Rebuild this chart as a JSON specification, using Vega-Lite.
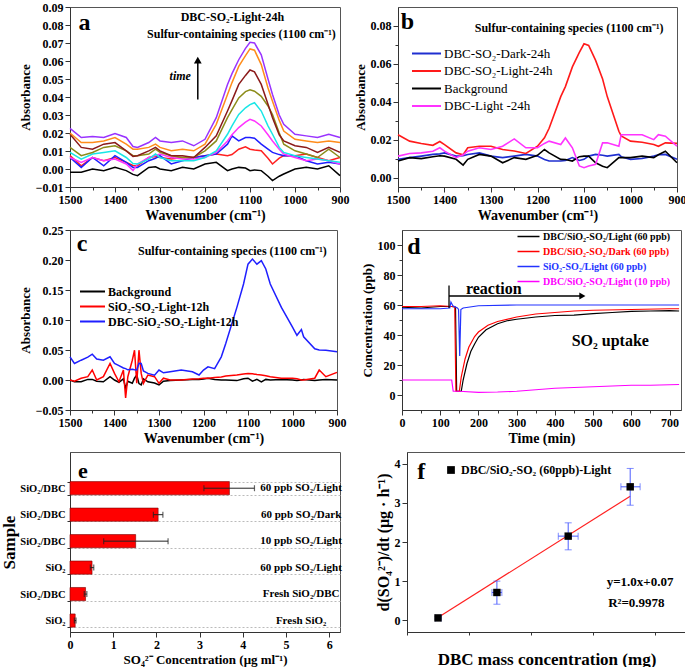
{
 "$schema": "https://vega.github.io/schema/vega-lite/v6.json",
 "background": "white",
 "padding": {"left": 0, "top": 0, "right": 3, "bottom": 2},
 "config": {
  "font": "Liberation Serif",
  "view": {"stroke": "#555", "strokeWidth": 1},
  "axis": {"labelFont": "Liberation Serif", "labelFontWeight": "bold", "labelFontSize": 12, "labelColor": "#000", "titleFont": "Liberation Serif", "titleFontWeight": "bold", "titleFontSize": 14, "titleColor": "#000", "grid": false, "tickColor": "#333", "domainColor": "#333", "labelFlush": false, "labelOverlap": false, "labelPadding": 2, "titlePadding": 3, "tickCount": 100},
  "legend": {"labelFont": "Liberation Serif", "titleFont": "Liberation Serif", "labelLimit": 400}
 },
 "spacing": 0,
 "resolve": {"scale": {"color": "independent", "x": "independent", "y": "independent"}},
 "vconcat": [
  {
   "hconcat": [
    {
     "width": 270, "height": 180,
     "layer": [
      {
       "data": {"values": [
        {"x":1500,"k":-0.0018,"r":0.0074,"b":0.0064,"m":0.0064,"c":0.0092,"g":0.012,"n":0.0193,"o":0.02,"p":0.0226},
        {"x":1475,"k":-0.0018,"r":0.0018,"b":0.0009,"m":0.0037,"c":0.0055,"g":0.0074,"n":0.012,"o":0.0147,"p":0.0175},
        {"x":1450,"k":0,"r":0.0064,"b":0.0064,"m":0.0064,"c":0.0083,"g":0.0092,"n":0.011,"o":0.0147,"p":0.018},
        {"x":1425,"k":-0.0009,"r":0.0046,"b":0.0018,"m":0.0046,"c":0.0092,"g":0.012,"n":0.0138,"o":0.0156,"p":0.0175},
        {"x":1400,"k":0.0009,"r":0.0064,"b":0.0074,"m":0.0055,"c":0.0101,"g":0.0129,"n":0.0147,"o":0.0175,"p":0.0197},
        {"x":1375,"k":-0.0009,"r":0.0037,"b":0.0037,"m":0.0028,"c":0.0064,"g":0.0101,"n":0.0101,"o":0.0138,"p":0.0175},
        {"x":1360,"k":-0.003,"r":0.002,"b":0.0009,"m":-0.0009,"c":0.003,"g":0.0074,"n":0.007,"o":0.011,"p":0.0125},
        {"x":1350,"k":-0.0037,"r":0.0018,"b":0.0009,"m":0.0028,"c":0.0028,"g":0.0074,"n":0.0074,"o":0.011,"p":0.012},
        {"x":1325,"k":0.0009,"r":0.0064,"b":0.0046,"m":0.0064,"c":0.0055,"g":0.0083,"n":0.0101,"o":0.012,"p":0.0147},
        {"x":1310,"k":0.0012,"r":0.007,"b":0.006,"m":0.0075,"c":0.0083,"g":0.011,"n":0.012,"o":0.0138,"p":0.0175},
        {"x":1300,"k":0,"r":0.0064,"b":0.0074,"m":0.0083,"c":0.0064,"g":0.0092,"n":0.0101,"o":0.012,"p":0.0156},
        {"x":1275,"k":-0.0009,"r":0.0055,"b":0.0028,"m":0.0064,"c":0.0046,"g":0.0074,"n":0.0074,"o":0.0101,"p":0.0147},
        {"x":1250,"k":0.0009,"r":0.0064,"b":0.0046,"m":0.0055,"c":0.0046,"g":0.0064,"n":0.0074,"o":0.011,"p":0.0156},
        {"x":1225,"k":0,"r":0.0064,"b":0.0064,"m":0.0055,"c":0.0046,"g":0.0064,"n":0.0064,"o":0.0101,"p":0.0129},
        {"x":1200,"k":0.0028,"r":0.0074,"b":0.0074,"m":0.0064,"c":0.0064,"g":0.0101,"n":0.012,"o":0.0138,"p":0.0165},
        {"x":1175,"k":0.0037,"r":0.0083,"b":0.0083,"m":0.0092,"c":0.0101,"g":0.0156,"n":0.0184,"o":0.0248,"p":0.0285},
        {"x":1150,"k":-0.0009,"r":0.0074,"b":0.0138,"m":0.0156,"c":0.0193,"g":0.0285,"n":0.0322,"o":0.0414,"p":0.047},
        {"x":1140,"k":0,"r":0.008,"b":0.0184,"m":0.019,"c":0.024,"g":0.033,"n":0.038,"o":0.048,"p":0.053},
        {"x":1125,"k":0.0009,"r":0.011,"b":0.0156,"m":0.023,"c":0.0303,"g":0.0395,"n":0.047,"o":0.057,"p":0.0607},
        {"x":1110,"k":0.0005,"r":0.0123,"b":0.0175,"m":0.026,"c":0.034,"g":0.043,"n":0.052,"o":0.063,"p":0.067},
        {"x":1100,"k":-0.0009,"r":0.011,"b":0.0175,"m":0.0276,"c":0.0358,"g":0.044,"n":0.055,"o":0.0667,"p":0.0704},
        {"x":1090,"k":-0.0005,"r":0.0105,"b":0.0171,"m":0.0267,"c":0.0368,"g":0.0432,"n":0.054,"o":0.066,"p":0.07},
        {"x":1075,"k":-0.0009,"r":0.0101,"b":0.0138,"m":0.0239,"c":0.0322,"g":0.0404,"n":0.047,"o":0.058,"p":0.0634},
        {"x":1060,"k":-0.004,"r":0.006,"b":0.011,"m":0.019,"c":0.024,"g":0.035,"n":0.036,"o":0.045,"p":0.05},
        {"x":1050,"k":-0.0064,"r":0.0028,"b":0.0092,"m":0.0156,"c":0.0193,"g":0.0303,"n":0.0285,"o":0.0377,"p":0.0414},
        {"x":1035,"k":-0.004,"r":0.006,"b":0.008,"m":0.011,"c":0.012,"g":0.02,"n":0.019,"o":0.027,"p":0.03},
        {"x":1025,"k":-0.0028,"r":0.0074,"b":0.0074,"m":0.0083,"c":0.0092,"g":0.0138,"n":0.0156,"o":0.0211,"p":0.0248},
        {"x":1000,"k":0,"r":0.0074,"b":0.0074,"m":0.0064,"c":0.0074,"g":0.0101,"n":0.0129,"o":0.0165,"p":0.0193},
        {"x":975,"k":0.0009,"r":0.0083,"b":0.0046,"m":0.0046,"c":0.0064,"g":0.0083,"n":0.012,"o":0.0156,"p":0.0184},
        {"x":950,"k":0,"r":0.0064,"b":0.0028,"m":0.0055,"c":0.0055,"g":0.0064,"n":0.0092,"o":0.0147,"p":0.0175},
        {"x":925,"k":0.0018,"r":0.0046,"b":0.0037,"m":0.0046,"c":0.0046,"g":0.011,"n":0.012,"o":0.0156,"p":0.0193},
        {"x":900,"k":-0.0037,"r":0.0064,"b":0.0028,"m":0.0028,"c":0.0037,"g":0.0064,"n":0.0092,"o":0.0147,"p":0.0175}
       ]},
       "transform": [{"fold": ["k","r","b","m","c","g","n","o","p"], "as": ["s","v"]}],
       "mark": {"type": "line", "strokeWidth": 1.5},
       "encoding": {
        "x": {"field": "x", "type": "quantitative", "scale": {"domain": [900,1500], "reverse": true, "nice": false},
         "axis": {"title": "Wavenumber (cm⁻¹)", "format": "d", "tickCount": 100, "values": [900,950,1000,1050,1100,1150,1200,1250,1300,1350,1400,1450,1500], "labelExpr": "datum.value % 100 == 0 ? datum.label : ''", "tickSize": {"condition": {"test": "datum.value % 100 == 0", "value": 5}, "value": 3}}},
        "y": {"field": "v", "type": "quantitative", "scale": {"domain": [-0.01,0.09], "nice": false},
         "axis": {"title": "Absorbance", "format": ".2f", "tickCount": 100, "values": [-0.01,0,0.01,0.02,0.03,0.04,0.05,0.06,0.07,0.08,0.09], "titleFontSize": 13}},
        "color": {"field": "s", "type": "nominal", "scale": {"domain": ["k","r","b","m","c","g","n","o","p"], "range": ["#000000","#ff2020","#1f1fff","#ff33ff","#19e6e6","#8c8c1a","#8b1a1a","#ff8c1a","#9933ff"]}, "legend": null}
       }
      },
      {"data": {"values": [{}]}, "mark": {"type": "text", "fontSize": 24, "fontWeight": "bold", "font": "Liberation Serif"},
       "encoding": {"x": {"datum": 1468, "type": "quantitative"}, "y": {"datum": 0.081, "type": "quantitative"}, "text": {"value": "a"}}},
      {"data": {"values": [{}]}, "mark": {"type": "text", "fontSize": 12, "fontWeight": "bold", "font": "Liberation Serif"},
       "encoding": {"x": {"datum": 1139, "type": "quantitative"}, "y": {"datum": 0.0846, "type": "quantitative"}, "text": {"value": "DBC-SO₂-Light-24h"}}},
      {"data": {"values": [{}]}, "mark": {"type": "text", "fontSize": 12, "fontWeight": "bold", "font": "Liberation Serif"},
       "encoding": {"x": {"datum": 1119, "type": "quantitative"}, "y": {"datum": 0.075, "type": "quantitative"}, "text": {"value": "Sulfur-containing species (1100 cm⁻¹)"}}},
      {"data": {"values": [{}]}, "mark": {"type": "text", "fontSize": 12, "fontWeight": "bold", "fontStyle": "italic", "font": "Liberation Serif"},
       "encoding": {"x": {"datum": 1255, "type": "quantitative"}, "y": {"datum": 0.0515, "type": "quantitative"}, "text": {"value": "time"}}},
      {"data": {"values": [{}]}, "mark": {"type": "rule", "strokeWidth": 1.5, "color": "#000"},
       "encoding": {"x": {"datum": 1216, "type": "quantitative"}, "y": {"datum": 0.0386, "type": "quantitative"}, "y2": {"datum": 0.06}}},
      {"data": {"values": [{}]}, "mark": {"type": "point", "shape": "triangle-up", "filled": true, "size": 60, "color": "#000", "opacity": 1},
       "encoding": {"x": {"datum": 1216, "type": "quantitative"}, "y": {"datum": 0.0605, "type": "quantitative"}}}
     ]
    },
    {
     "width": 279, "height": 180,
     "layer": [
      {
       "data": {"values": [
        {"x":1500,"r":0.0226,"b":0.0096,"k":0.0087,"m":0.0113},
        {"x":1475,"r":0.0192,"b":0.0105,"k":0.0105,"m":0.0127},
        {"x":1450,"r":0.018,"b":0.0113,"k":0.01,"m":0.013},
        {"x":1425,"r":0.017,"b":0.0122,"k":0.011,"m":0.0139},
        {"x":1410,"r":0.019,"b":0.0125,"k":0.0115,"m":0.0157},
        {"x":1400,"r":0.0174,"b":0.013,"k":0.0113,"m":0.0139},
        {"x":1375,"r":0.013,"b":0.0113,"k":0.0096,"m":0.0105},
        {"x":1360,"r":0.012,"b":0.0115,"k":0.0066,"m":0.012},
        {"x":1350,"r":0.0157,"b":0.0122,"k":0.0096,"m":0.0139},
        {"x":1325,"r":0.0165,"b":0.013,"k":0.0122,"m":0.0157},
        {"x":1300,"r":0.0165,"b":0.0113,"k":0.0113,"m":0.0148},
        {"x":1275,"r":0.0148,"b":0.0105,"k":0.0078,"m":0.0165},
        {"x":1250,"r":0.014,"b":0.0113,"k":0.0105,"m":0.0204},
        {"x":1225,"r":0.0127,"b":0.0122,"k":0.0096,"m":0.0157},
        {"x":1200,"r":0.0165,"b":0.0113,"k":0.0117,"m":0.0157},
        {"x":1185,"r":0.021,"b":0.0095,"k":0.0148,"m":0.018},
        {"x":1175,"r":0.026,"b":0.0087,"k":0.013,"m":0.0192},
        {"x":1150,"r":0.0427,"b":0.0087,"k":0.0096,"m":0.0174},
        {"x":1140,"r":0.048,"b":0.009,"k":0.0095,"m":0.0209},
        {"x":1125,"r":0.0584,"b":0.0105,"k":0.0087,"m":0.0157},
        {"x":1110,"r":0.066,"b":0.009,"k":0.011,"m":0.0061},
        {"x":1100,"r":0.0706,"b":0.0096,"k":0.0113,"m":0.0052},
        {"x":1090,"r":0.0697,"b":0.0113,"k":0.0113,"m":0.0061},
        {"x":1075,"r":0.0618,"b":0.0122,"k":0.0078,"m":0.007},
        {"x":1060,"r":0.052,"b":0.0118,"k":0.006,"m":0.0183},
        {"x":1050,"r":0.0427,"b":0.0113,"k":0.0052,"m":0.0183},
        {"x":1025,"r":0.0244,"b":0.0122,"k":0.0105,"m":0.0165},
        {"x":1020,"r":0.022,"b":0.011,"k":0.0105,"m":0.0226},
        {"x":1000,"r":0.0192,"b":0.0096,"k":0.0105,"m":0.0226},
        {"x":975,"r":0.0186,"b":0.01,"k":0.0113,"m":0.0226},
        {"x":950,"r":0.0174,"b":0.0113,"k":0.0105,"m":0.02},
        {"x":940,"r":0.0165,"b":0.012,"k":0.012,"m":0.0226},
        {"x":925,"r":0.0183,"b":0.0122,"k":0.0139,"m":0.0218},
        {"x":900,"r":0.018,"b":0.0096,"k":0.0078,"m":0.0165}
       ]},
       "transform": [{"fold": ["b","r","k","m"], "as": ["s","v"]}],
       "mark": {"type": "line", "strokeWidth": 1.6},
       "encoding": {
        "x": {"field": "x", "type": "quantitative", "scale": {"domain": [900,1500], "reverse": true, "nice": false},
         "axis": {"title": "Wavenumber (cm⁻¹)", "format": "d", "tickCount": 100, "values": [900,950,1000,1050,1100,1150,1200,1250,1300,1350,1400,1450,1500], "labelExpr": "datum.value % 100 == 0 ? datum.label : ''", "tickSize": {"condition": {"test": "datum.value % 100 == 0", "value": 5}, "value": 3}}},
        "y": {"field": "v", "type": "quantitative", "scale": {"domain": [-0.005,0.09], "nice": false},
         "axis": {"title": "Absorbance", "format": ".2f", "tickCount": 100, "values": [0,0.01,0.02,0.03,0.04,0.05,0.06,0.07,0.08], "labelExpr": "round(datum.value*100) % 2 == 0 ? datum.label : ''", "tickSize": {"condition": {"test": "round(datum.value*100) % 2 == 0", "value": 5}, "value": 3}, "titleFontSize": 13}},
        "color": {"field": "s", "type": "nominal", "scale": {"domain": ["b","r","k","m"], "range": ["#1f2fd0","#ff1a1a","#000000","#ff33ff"]},
         "legend": {"orient": "none", "legendX": 20, "legendY": 38, "title": null, "symbolType": "M-2,0H2", "symbolStrokeWidth": 2, "symbolSize": 210, "labelFontSize": 13, "labelFontWeight": "normal", "rowPadding": 1.5, "labelOffset": 9,
          "labelExpr": "datum.label == 'b' ? 'DBC-SO₂-Dark-24h' : datum.label == 'r' ? 'DBC-SO₂-Light-24h' : datum.label == 'k' ? 'Background' : 'DBC-Light -24h'"}}
       }
      },
      {"data": {"values": [{}]}, "mark": {"type": "text", "fontSize": 24, "fontWeight": "bold", "font": "Liberation Serif"},
       "encoding": {"x": {"datum": 1480, "type": "quantitative"}, "y": {"datum": 0.082, "type": "quantitative"}, "text": {"value": "b"}}},
      {"data": {"values": [{}]}, "mark": {"type": "text", "fontSize": 12, "fontWeight": "bold", "font": "Liberation Serif"},
       "encoding": {"x": {"datum": 1132, "type": "quantitative"}, "y": {"datum": 0.0789, "type": "quantitative"}, "text": {"value": "Sulfur-containing species (1100 cm⁻¹)"}}}
     ]
    }
   ],
   "spacing": 58,
   "bounds": "flush",
   "resolve": {"scale": {"color": "independent", "x": "independent", "y": "independent"}}
  },
  {
   "hconcat": [
    {
     "width": 267, "height": 180,
     "layer": [
      {
       "data": {"values": [
        {"x":1500,"k":0,"r":0,"b":0.0386},
        {"x":1490,"k":-0.003,"r":-0.002,"b":0.0276},
        {"x":1475,"k":-0.003,"r":0.003,"b":0.033},
        {"x":1460,"k":0.001,"r":0.0055,"b":0.038},
        {"x":1450,"k":0.001,"r":0.0166,"b":0.043},
        {"x":1440,"k":-0.002,"r":0,"b":0.035},
        {"x":1425,"k":-0.003,"r":0.0055,"b":0.033},
        {"x":1410,"k":0.0055,"r":0.0276,"b":0.0386},
        {"x":1400,"k":0,"r":0.011,"b":0.0276},
        {"x":1390,"k":-0.004,"r":-0.003,"b":0.024},
        {"x":1380,"k":0.002,"r":0.0166,"b":0.02},
        {"x":1375,"k":-0.0138,"r":-0.03,"b":0.019},
        {"x":1370,"k":-0.002,"r":0.0055,"b":0.017},
        {"x":1360,"k":-0.0055,"r":0.033,"b":0.018},
        {"x":1355,"k":0.003,"r":0.0497,"b":0.017},
        {"x":1350,"k":0.0083,"r":-0.0055,"b":0.0166},
        {"x":1345,"k":-0.006,"r":0.0497,"b":0.028},
        {"x":1340,"k":-0.0083,"r":0.011,"b":0.0276},
        {"x":1335,"k":0.002,"r":-0.0055,"b":0.015},
        {"x":1325,"k":-0.003,"r":0.0083,"b":0.011},
        {"x":1310,"k":-0.005,"r":0.0055,"b":0.008},
        {"x":1300,"k":-0.0083,"r":-0.0055,"b":0.0166},
        {"x":1290,"k":-0.002,"r":0.003,"b":0.012},
        {"x":1275,"k":-0.001,"r":0,"b":0.0138},
        {"x":1250,"k":0,"r":0,"b":0.0166},
        {"x":1225,"k":0.001,"r":0.0017,"b":0.0138},
        {"x":1210,"k":0.001,"r":0.002,"b":0.0083},
        {"x":1200,"k":0.0017,"r":0.003,"b":0.0166},
        {"x":1190,"k":0.003,"r":0.003,"b":0.022},
        {"x":1175,"k":0.001,"r":0.004,"b":0.019},
        {"x":1160,"k":0,"r":0.005,"b":0.0386},
        {"x":1150,"k":0,"r":0.0066,"b":0.0607},
        {"x":1125,"k":-0.001,"r":0.0083,"b":0.121},
        {"x":1110,"k":0.002,"r":0.01,"b":0.16},
        {"x":1100,"k":0.003,"r":0.011,"b":0.193},
        {"x":1090,"k":-0.002,"r":0.0105,"b":0.2015},
        {"x":1080,"k":0.001,"r":0.009,"b":0.193},
        {"x":1070,"k":-0.003,"r":0.0083,"b":0.199},
        {"x":1060,"k":0.001,"r":0.007,"b":0.185},
        {"x":1050,"k":0,"r":0.0055,"b":0.16},
        {"x":1025,"k":0.001,"r":0.003,"b":0.121},
        {"x":1000,"k":0,"r":0.003,"b":0.088},
        {"x":990,"k":-0.001,"r":0.002,"b":0.0745},
        {"x":980,"k":0,"r":0,"b":0.084},
        {"x":975,"k":0.001,"r":0,"b":0.072},
        {"x":950,"k":-0.001,"r":0.003,"b":0.052},
        {"x":940,"k":0,"r":0.0166,"b":0.05},
        {"x":925,"k":0.001,"r":0.0055,"b":0.0497},
        {"x":900,"k":0,"r":0.0127,"b":0.047}
       ]},
       "transform": [{"fold": ["k","r","b"], "as": ["s","v"]}],
       "mark": {"type": "line", "strokeWidth": 1.5},
       "encoding": {
        "x": {"field": "x", "type": "quantitative", "scale": {"domain": [900,1500], "reverse": true, "nice": false},
         "axis": {"title": "Wavenumber (cm⁻¹)", "format": "d", "tickCount": 100, "values": [900,950,1000,1050,1100,1150,1200,1250,1300,1350,1400,1450,1500], "labelExpr": "datum.value % 100 == 0 ? datum.label : ''", "tickSize": {"condition": {"test": "datum.value % 100 == 0", "value": 5}, "value": 3}}},
        "y": {"field": "v", "type": "quantitative", "scale": {"domain": [-0.05,0.25], "nice": false},
         "axis": {"title": "Absorbance", "format": ".2f", "tickCount": 100, "values": [-0.05,0,0.05,0.1,0.15,0.2,0.25], "titleFontSize": 13}},
        "color": {"field": "s", "type": "nominal", "scale": {"domain": ["k","r","b"], "range": ["#000000","#ff0000","#1f1fff"]},
         "legend": {"orient": "none", "legendX": 15, "legendY": 54, "title": null, "symbolType": "M-2,0H2", "symbolStrokeWidth": 2, "symbolSize": 156, "labelFontSize": 12, "labelFontWeight": "bold", "rowPadding": 1, "labelOffset": 8,
          "labelExpr": "datum.label == 'k' ? 'Background' : datum.label == 'r' ? 'SiO₂-SO₂-Light-12h' : 'DBC-SiO₂-SO₂-Light-12h'"}}
       }
      },
      {"data": {"values": [{}]}, "mark": {"type": "text", "fontSize": 24, "fontWeight": "bold", "font": "Liberation Serif"},
       "encoding": {"x": {"datum": 1473, "type": "quantitative"}, "y": {"datum": 0.226, "type": "quantitative"}, "text": {"value": "c"}}},
      {"data": {"values": [{}]}, "mark": {"type": "text", "fontSize": 12, "fontWeight": "bold", "font": "Liberation Serif"},
       "encoding": {"x": {"datum": 1135, "type": "quantitative"}, "y": {"datum": 0.215, "type": "quantitative"}, "text": {"value": "Sulfur-containing species (1100 cm⁻¹)"}}}
     ]
    },
    {
     "width": 279, "height": 180,
     "layer": [
      {
       "data": {"values": [
        {"s":"k","t":0,"y":58.5},{"s":"k","t":50,"y":58},{"s":"k","t":100,"y":59},{"s":"k","t":130,"y":59},{"s":"k","t":140,"y":58.5},{"s":"k","t":143,"y":2.5},{"s":"k","t":155,"y":2.5},{"s":"k","t":160,"y":10},{"s":"k","t":170,"y":21},{"s":"k","t":180,"y":29},{"s":"k","t":190,"y":34},{"s":"k","t":200,"y":38.5},{"s":"k","t":220,"y":43.5},{"s":"k","t":250,"y":47.5},{"s":"k","t":275,"y":49.5},{"s":"k","t":300,"y":50.5},{"s":"k","t":350,"y":52},{"s":"k","t":400,"y":53},{"s":"k","t":450,"y":53.2},{"s":"k","t":500,"y":54.2},{"s":"k","t":550,"y":55},{"s":"k","t":600,"y":55.8},{"s":"k","t":650,"y":56},{"s":"k","t":700,"y":56.3},{"s":"k","t":725,"y":56},
        {"s":"r","t":0,"y":59},{"s":"r","t":50,"y":59},{"s":"r","t":100,"y":59.5},{"s":"r","t":130,"y":59},{"s":"r","t":138,"y":59},{"s":"r","t":141,"y":2.5},{"s":"r","t":150,"y":2.5},{"s":"r","t":155,"y":12},{"s":"r","t":165,"y":24},{"s":"r","t":175,"y":32},{"s":"r","t":190,"y":39},{"s":"r","t":200,"y":42},{"s":"r","t":225,"y":46.5},{"s":"r","t":250,"y":49},{"s":"r","t":300,"y":52},{"s":"r","t":350,"y":54},{"s":"r","t":400,"y":55},{"s":"r","t":450,"y":56},{"s":"r","t":500,"y":56.5},{"s":"r","t":600,"y":57},{"s":"r","t":700,"y":57.5},{"s":"r","t":725,"y":57.5},
        {"s":"b","t":0,"y":57.5},{"s":"b","t":50,"y":57.5},{"s":"b","t":100,"y":57.5},{"s":"b","t":125,"y":58},{"s":"b","t":128,"y":62},{"s":"b","t":133,"y":59.5},{"s":"b","t":145,"y":58},{"s":"b","t":148,"y":57},{"s":"b","t":151,"y":26},{"s":"b","t":154,"y":57},{"s":"b","t":160,"y":58},{"s":"b","t":200,"y":59.5},{"s":"b","t":300,"y":60},{"s":"b","t":400,"y":60},{"s":"b","t":500,"y":60},{"s":"b","t":600,"y":60},{"s":"b","t":725,"y":60},
        {"s":"m","t":0,"y":10},{"s":"m","t":130,"y":10},{"s":"m","t":134,"y":2.5},{"s":"m","t":150,"y":2.5},{"s":"m","t":200,"y":1.8},{"s":"m","t":250,"y":2},{"s":"m","t":300,"y":2.5},{"s":"m","t":350,"y":3.5},{"s":"m","t":400,"y":4.5},{"s":"m","t":450,"y":5},{"s":"m","t":500,"y":5.5},{"s":"m","t":550,"y":6},{"s":"m","t":600,"y":6.5},{"s":"m","t":650,"y":6.5},{"s":"m","t":725,"y":7}
       ]},
       "mark": {"type": "line", "strokeWidth": 1.2},
       "encoding": {
        "x": {"field": "t", "type": "quantitative", "scale": {"domain": [0,730], "nice": false},
         "axis": {"title": "Time (min)", "format": "d", "tickCount": 100, "values": [0,50,100,150,200,250,300,350,400,450,500,550,600,650,700], "labelExpr": "datum.value % 100 == 0 ? datum.label : ''", "tickSize": {"condition": {"test": "datum.value % 100 == 0", "value": 5}, "value": 3}}},
        "y": {"field": "y", "type": "quantitative", "scale": {"domain": [-10,110], "nice": false},
         "axis": {"title": "Concentration (ppb)", "format": "d", "tickCount": 100, "values": [0,10,20,30,40,50,60,70,80,90,100], "labelExpr": "datum.value % 20 == 0 ? datum.label : ''", "tickSize": {"condition": {"test": "datum.value % 20 == 0", "value": 5}, "value": 3}, "titleFontSize": 13}},
        "color": {"field": "s", "type": "nominal", "scale": {"domain": ["k","r","b","m"], "range": ["#000000","#ff0000","#2233ff","#ff00ff"]},
         "legend": {"orient": "none", "legendX": 120, "legendY": 0, "title": null, "symbolType": "M-2,0H2", "symbolStrokeWidth": 1.5, "symbolSize": 121, "labelFontSize": 10, "labelFontWeight": "bold", "rowPadding": 3, "labelOffset": 8, "labelLimit": 400,
          "labelExpr": "datum.label == 'k' ? 'DBC/SiO₂-SO₂/Light (60 ppb)' : datum.label == 'r' ? 'DBC/SiO₂-SO₂/Dark (60 ppb)' : datum.label == 'b' ? 'SiO₂-SO₂/Light (60 ppb)' : 'DBC/SiO₂-SO₂/Light (10 ppb)'",
          "encode": {"labels": {"update": {"fill": {"signal": "datum.value == 'r' ? '#ff0000' : datum.value == 'b' ? '#2233ff' : datum.value == 'm' ? '#ff00ff' : '#000000'"}}}}}}
       }
      },
      {"data": {"values": [{}]}, "mark": {"type": "text", "fontSize": 24, "fontWeight": "bold", "font": "Liberation Serif"},
       "encoding": {"x": {"datum": 31, "type": "quantitative"}, "y": {"datum": 99, "type": "quantitative"}, "text": {"value": "d"}}},
      {"data": {"values": [{}]}, "mark": {"type": "text", "fontSize": 16, "fontWeight": "bold", "font": "Liberation Serif"},
       "encoding": {"x": {"datum": 240, "type": "quantitative"}, "y": {"datum": 71, "type": "quantitative"}, "text": {"value": "reaction"}}},
      {"data": {"values": [{}]}, "mark": {"type": "text", "fontSize": 16, "fontWeight": "bold", "font": "Liberation Serif"},
       "encoding": {"x": {"datum": 545, "type": "quantitative"}, "y": {"datum": 36, "type": "quantitative"}, "text": {"value": "SO₂ uptake"}}},
      {"data": {"values": [{}]}, "mark": {"type": "rule", "strokeWidth": 1.3, "color": "#000"},
       "encoding": {"x": {"datum": 123, "type": "quantitative"}, "y": {"datum": 58, "type": "quantitative"}, "y2": {"datum": 73}}},
      {"data": {"values": [{}]}, "mark": {"type": "rule", "strokeWidth": 1.3, "color": "#000"},
       "encoding": {"x": {"datum": 123, "type": "quantitative"}, "x2": {"datum": 470}, "y": {"datum": 66, "type": "quantitative"}}},
      {"data": {"values": [{}]}, "mark": {"type": "point", "shape": "triangle-right", "filled": true, "size": 50, "color": "#000", "opacity": 1},
       "encoding": {"x": {"datum": 472, "type": "quantitative"}, "y": {"datum": 66, "type": "quantitative"}}}
     ]
    }
   ],
   "spacing": 65,
   "bounds": "flush",
   "resolve": {"scale": {"color": "independent", "x": "independent", "y": "independent"}}
  },
  {
   "hconcat": [
    {
     "width": 270, "height": 180,
     "data": {"values": [
      {"k":"SiO₂/DBC|60 ppb SO₂/Light","c":"60 ppb SO₂/Light","v":3.69,"lo":3.1,"hi":4.27},
      {"k":"SiO₂/DBC|60 ppb SO₂/Dark","c":"60 ppb SO₂/Dark","v":2.04,"lo":1.93,"hi":2.15},
      {"k":"SiO₂/DBC|10 ppb SO₂/Light","c":"10 ppb SO₂/Light","v":1.52,"lo":0.78,"hi":2.27},
      {"k":"SiO₂|60 ppb SO₂/Light","c":"60 ppb SO₂/Light","v":0.51,"lo":0.47,"hi":0.55},
      {"k":"SiO₂/DBC|Fresh SiO₂/DBC","c":"Fresh SiO₂/DBC","v":0.36,"lo":0.33,"hi":0.39},
      {"k":"SiO₂|Fresh SiO₂","c":"Fresh SiO₂","v":0.12,"lo":0.1,"hi":0.14}
     ]},
     "layer": [
      {"mark": {"type": "bar", "color": "#ff0000", "stroke": "#7a0000", "strokeWidth": 0.6},
       "encoding": {
        "y": {"field": "k", "type": "nominal", "sort": null, "scale": {"paddingInner": 0.5, "paddingOuter": 0.65, "align": 0.86},
         "axis": {"title": "Sample", "titleFontSize": 17, "titlePadding": 1, "labelFontSize": 10.5, "labelExpr": "datum.value ? split(datum.value, '|')[0] : ''", "tickBand": "extent", "grid": true, "gridDash": [2,2], "gridColor": "#bbb", "tickSize": 3}},
        "x": {"field": "v", "type": "quantitative", "scale": {"domain": [0,6.25], "nice": false},
        "axis": {"title": "SO₄²⁻ Concentration (μg ml⁻¹)", "titleFontSize": 13, "format": "d", "tickCount": 100, "values": [0,0.5,1,1.5,2,2.5,3,3.5,4,4.5,5,5.5,6], "labelExpr": "datum.value % 1 == 0 ? datum.label : ''", "tickSize": {"condition": {"test": "datum.value % 1 == 0", "value": 5}, "value": 3}}}}},
      {"mark": {"type": "rule", "color": "#222", "strokeWidth": 1},
       "encoding": {"y": {"field": "k", "type": "nominal", "sort": null}, "x": {"field": "lo", "type": "quantitative"}, "x2": {"field": "hi"}}},
      {"mark": {"type": "tick", "color": "#222", "size": 6, "thickness": 1.2, "orient": "vertical"},
       "encoding": {"y": {"field": "k", "type": "nominal", "sort": null}, "x": {"field": "lo", "type": "quantitative"}}},
      {"mark": {"type": "tick", "color": "#222", "size": 6, "thickness": 1.2, "orient": "vertical"},
       "encoding": {"y": {"field": "k", "type": "nominal", "sort": null}, "x": {"field": "hi", "type": "quantitative"}}},
      {"mark": {"type": "text", "fontSize": 11, "fontWeight": "bold", "font": "Liberation Serif"},
       "encoding": {"y": {"field": "k", "type": "nominal", "sort": null}, "x": {"datum": 5.35, "type": "quantitative"}, "text": {"field": "c"}}},
      {"transform": [{"filter": "datum.v > 3"}],
       "mark": {"type": "text", "fontSize": 22, "fontWeight": "bold", "font": "Liberation Serif", "dy": -17},
       "encoding": {"y": {"field": "k", "type": "nominal", "sort": null}, "x": {"datum": 0.3, "type": "quantitative"}, "text": {"value": "e"}}}
     ]
    },
    {
     "width": 279, "height": 180,
     "layer": [
      {"data": {"values": [{"x":0,"y":0.07},{"x":3.1,"y":3.17}]},
       "mark": {"type": "line", "color": "#ff2020", "strokeWidth": 1.2},
       "encoding": {
        "x": {"field": "x", "type": "quantitative", "title": "DBC mass concentration (mg)", "scale": {"domain": [-0.5,4], "nice": false},
         "axis": {"titleFontSize": 17, "format": "d", "tickCount": 100, "values": [-0.5,0,0.5,1,1.5,2,2.5,3,3.5,4], "labelExpr": "datum.value % 1 == 0 ? datum.label : ''", "tickSize": {"condition": {"test": "datum.value % 1 == 0", "value": 5}, "value": 3}}},
        "y": {"field": "y", "type": "quantitative", "title": "d(SO₄²⁻)/dt (μg · h⁻¹)", "scale": {"domain": [-0.3,4.3], "nice": false},
         "axis": {"titleFontSize": 16, "format": "d", "tickCount": 100, "values": [0,0.5,1,1.5,2,2.5,3,3.5,4], "labelExpr": "datum.value % 1 == 0 ? datum.label : ''", "tickSize": {"condition": {"test": "datum.value % 1 == 0", "value": 5}, "value": 3}}}
       }},
      {"data": {"values": [
        {"s":"DBC/SiO₂-SO₂ (60ppb)-Light","x":0,"y":0.06,"xl":-0.04,"xh":0.05,"yl":0.03,"yh":0.09},
        {"s":"DBC/SiO₂-SO₂ (60ppb)-Light","x":0.95,"y":0.71,"xl":0.87,"xh":1.03,"yl":0.41,"yh":1.0},
        {"s":"DBC/SiO₂-SO₂ (60ppb)-Light","x":2.1,"y":2.15,"xl":1.94,"xh":2.26,"yl":1.8,"yh":2.49},
        {"s":"DBC/SiO₂-SO₂ (60ppb)-Light","x":3.1,"y":3.41,"xl":2.95,"xh":3.26,"yl":2.94,"yh":3.88}
       ]},
       "layer": [
        {"mark": {"type": "errorbar", "ticks": {"size": 7}, "color": "#4a5cff"},
         "encoding": {"x": {"field": "x", "type": "quantitative", "title": "DBC mass concentration (mg)"}, "y": {"field": "yl", "type": "quantitative", "title": "d(SO₄²⁻)/dt (μg · h⁻¹)"}, "y2": {"field": "yh"}}},
        {"mark": {"type": "errorbar", "ticks": {"size": 7}, "color": "#4a5cff"},
         "encoding": {"y": {"field": "y", "type": "quantitative", "title": "d(SO₄²⁻)/dt (μg · h⁻¹)"}, "x": {"field": "xl", "type": "quantitative", "title": "DBC mass concentration (mg)"}, "x2": {"field": "xh"}}},
        {"mark": {"type": "point", "shape": "square", "filled": true, "size": 55, "opacity": 1},
         "encoding": {"x": {"field": "x", "type": "quantitative", "title": "DBC mass concentration (mg)"}, "y": {"field": "y", "type": "quantitative", "title": "d(SO₄²⁻)/dt (μg · h⁻¹)"},
          "color": {"field": "s", "type": "nominal", "scale": {"range": ["#000000"]},
           "legend": {"orient": "none", "legendX": 38, "legendY": 12, "title": null, "labelFontSize": 12, "labelFontWeight": "bold", "symbolSize": 60, "symbolType": "square"}}}}
       ]},
      {"data": {"values": [{}]}, "mark": {"type": "text", "fontSize": 24, "fontWeight": "bold", "font": "Liberation Serif"},
       "encoding": {"x": {"datum": -0.27, "type": "quantitative"}, "y": {"datum": 3.79, "type": "quantitative"}, "text": {"value": "f"}}},
      {"data": {"values": [{}]}, "mark": {"type": "text", "fontSize": 13, "fontWeight": "bold", "font": "Liberation Serif"},
       "encoding": {"x": {"datum": 3.26, "type": "quantitative"}, "y": {"datum": 0.99, "type": "quantitative"}, "text": {"value": "y=1.0x+0.07"}}},
      {"data": {"values": [{}]}, "mark": {"type": "text", "fontSize": 13, "fontWeight": "bold", "font": "Liberation Serif"},
       "encoding": {"x": {"datum": 3.2, "type": "quantitative"}, "y": {"datum": 0.44, "type": "quantitative"}, "text": {"value": "R²=0.9978"}}}
     ]
    }
   ],
   "spacing": 67,
   "bounds": "flush",
   "resolve": {"scale": {"color": "independent", "x": "independent", "y": "independent"}}
  }
 ]
}
